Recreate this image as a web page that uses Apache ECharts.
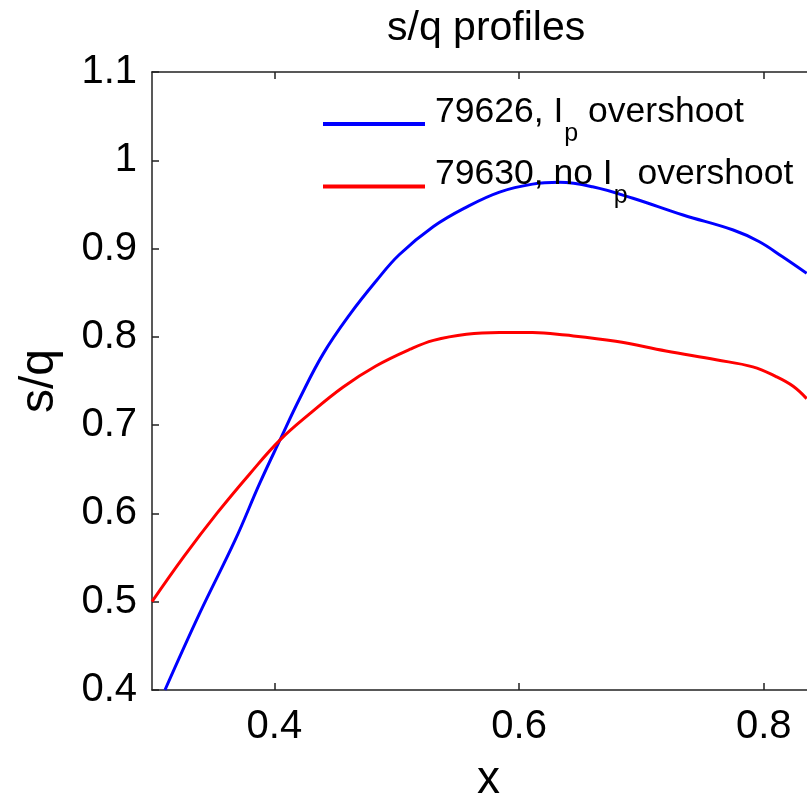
<!DOCTYPE html>
<html>
<head>
<meta charset="utf-8">
<script src="https://cdn.jsdelivr.net/npm/echarts@6/dist/echarts.min.js"></script>
<style>
html,body{margin:0;padding:0;background:#fff;}
#chart{width:807px;height:794px;}
</style>
</head>
<body>
<div id="chart"></div>
<script>
// ---- data ----
var blueX = [0.3106, 0.339, 0.368, 0.388, 0.4045, 0.421, 0.440, 0.462, 0.483, 0.502, 0.530, 0.557, 0.584, 0.611, 0.633, 0.660, 0.693, 0.734, 0.775, 0.796, 0.815, 0.835];
var blueY = [0.400, 0.487, 0.570, 0.634, 0.683, 0.731, 0.781, 0.826, 0.863, 0.893, 0.925, 0.947, 0.964, 0.973, 0.975, 0.970, 0.957, 0.938, 0.921, 0.908, 0.891, 0.872];
var redX = [0.300, 0.326, 0.353, 0.380, 0.4045, 0.429, 0.456, 0.483, 0.511, 0.530, 0.557, 0.584, 0.611, 0.638, 0.679, 0.720, 0.761, 0.791, 0.810, 0.824, 0.835];
var redY = [0.500, 0.551, 0.600, 0.645, 0.683, 0.713, 0.743, 0.767, 0.786, 0.796, 0.803, 0.805, 0.805, 0.802, 0.795, 0.784, 0.774, 0.766, 0.755, 0.744, 0.730];
var seriesNames = ['79626, I_p overshoot', '79630, no I_p overshoot'];
var xTickValues = [0.4, 0.6, 0.8];
var xTickLabels = ['0.4', '0.6', '0.8'];
var yTickValues = [0.4, 0.5, 0.6, 0.7, 0.8, 0.9, 1.0, 1.1];
var yTickLabels = ['0.4', '0.5', '0.6', '0.7', '0.8', '0.9', '1', '1.1'];
var titleText = 's/q profiles';
var xName = 'x';
var yName = 's/q';

function pairs(xs, ys) { return xs.map(function (x, i) { return [x, ys[i]]; }); }
function labelFor(values, labels) {
  return function (v) {
    for (var i = 0; i < values.length; i++) { if (Math.abs(values[i] - v) < 1e-6) return labels[i]; }
    return '';
  };
}

var FONT = 'Liberation Sans, Arial, sans-serif';
var axisColor = '#222';

var chart = echarts.init(document.getElementById('chart'), null, {renderer: 'canvas'});
chart.setOption({
  backgroundColor: '#fff',
  animation: false,
  title: {
    text: titleText, left: 387, top: 8, padding: 0,
    textStyle: {fontFamily: FONT, fontSize: 41, fontWeight: 'normal', color: '#000'}
  },
  legend: {
    orient: 'vertical', left: 323, top: 94, itemGap: 10, padding: 0,
    itemWidth: 102, itemHeight: 4, icon: 'rect',
    data: seriesNames,
    formatter: function (name) {
      var parts = name.split('I_p');
      return '{f|' + parts[0] + 'I}{s|p}{m|' + parts[1] + '}';
    },
    textStyle: {
      fontFamily: FONT, color: '#000',
      rich: {
        f: {fontFamily: FONT, fontSize: 35.5, padding: [0, 0, 24, 5], color: '#000'},
        m: {fontFamily: FONT, fontSize: 35.5, padding: [0, 0, 24, 0], color: '#000'},
        s: {fontFamily: FONT, fontSize: 25, padding: [20, 0, 0, 1], color: '#000'}
      }
    }
  },
  grid: {left: 152, right: -18, top: 72, bottom: 104, containLabel: false, outerBoundsMode: 'none'},
  xAxis: [{
    type: 'value', position: 'bottom', min: 0.3, max: 0.85,
    name: xName, nameLocation: 'middle', nameGap: 67,
    nameTextStyle: {fontFamily: FONT, fontSize: 46, color: '#000'},
    axisLine: {show: true, onZero: false, lineStyle: {color: axisColor, width: 1.5}},
    axisTick: {show: true, inside: true, length: 7, customValues: xTickValues, lineStyle: {color: axisColor, width: 1.5}},
    axisLabel: {customValues: xTickValues, formatter: labelFor(xTickValues, xTickLabels), fontFamily: FONT, fontSize: 40, color: '#000', margin: 17},
    splitLine: {show: false}
  }, {
    type: 'value', position: 'top', min: 0.3, max: 0.85,
    axisLine: {show: true, onZero: false, lineStyle: {color: axisColor, width: 1.5}},
    axisTick: {show: true, inside: true, length: 7, customValues: xTickValues, lineStyle: {color: axisColor, width: 1.5}},
    axisLabel: {show: false},
    splitLine: {show: false}
  }],
  yAxis: [{
    type: 'value', position: 'left', min: 0.4, max: 1.1,
    name: yName, nameLocation: 'middle', nameGap: 88, nameRotate: 90,
    nameTextStyle: {fontFamily: FONT, fontSize: 48, color: '#000'},
    axisLine: {show: true, onZero: false, lineStyle: {color: axisColor, width: 1.5}},
    axisTick: {show: true, inside: true, length: 7, customValues: yTickValues, lineStyle: {color: axisColor, width: 1.5}},
    axisLabel: {customValues: yTickValues, formatter: labelFor(yTickValues, yTickLabels), fontFamily: FONT, fontSize: 40, color: '#000', margin: 15},
    splitLine: {show: false}
  }],
  series: [{
    name: seriesNames[0], type: 'line', data: pairs(blueX, blueY),
    smooth: 0.4, showSymbol: false, symbol: 'none',
    lineStyle: {color: '#0000ff', width: 3}, itemStyle: {color: '#0000ff'}
  }, {
    name: seriesNames[1], type: 'line', data: pairs(redX, redY),
    smooth: 0.4, showSymbol: false, symbol: 'none',
    lineStyle: {color: '#ff0000', width: 3}, itemStyle: {color: '#ff0000'}
  }]
});
</script>
</body>
</html>
